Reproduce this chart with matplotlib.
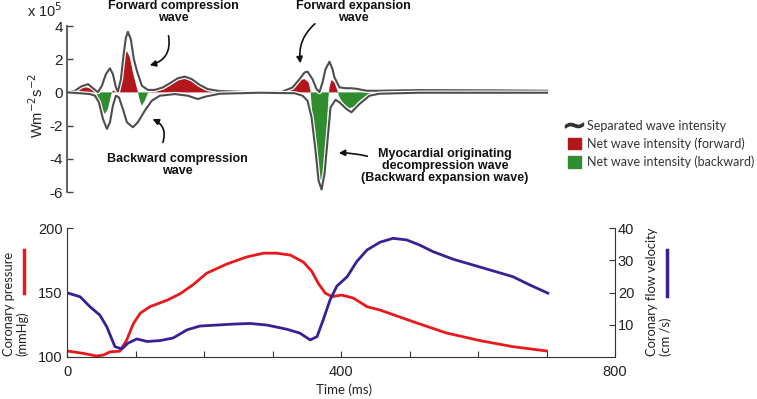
import matplotlib
matplotlib.use("Agg")
import matplotlib.pyplot as plt
import matplotlib.patheffects as pe
from matplotlib.lines import Line2D
from matplotlib.patches import Patch, FancyArrowPatch

# --- wave intensity (x 10^5 W m^-2 s^-2), time in ms ---
fwd_t = [0, 11.7, 20.4, 30.6, 37.9, 45.2, 51.0, 56.8, 62.7, 67.0, 71.4, 74.3, 78.7,
         83.0, 86.0, 88.9, 93.2, 97.6, 102.0, 109.3, 118.0, 128.2, 139.9, 150.1,
         161.7, 171.9, 182.1, 193.8, 205.4, 222.9, 266.6, 313.2, 329.3, 339.5,
         346.8, 351.1, 358.4, 364.3, 368.6, 373.0, 377.4, 383.2, 387.6, 390.5,
         397.8, 408.0, 415.2, 422.5, 437.1, 456.0, 514.3, 572.6, 630.9, 700.8]
fwd_v = [0, 0.1, 0.35, 0.5, 0.25, 0.02, 0.4, 1.1, 1.45, 1.1, 0.3, 0.05, 0.8,
         2.4, 3.3, 3.65, 3.2, 2.0, 1.3, 0.4, 0.15, 0.15, 0.3, 0.55,
         0.85, 0.95, 0.8, 0.45, 0.2, 0.08, 0.02, 0.03, 0.3, 0.8,
         1.2, 1.25, 0.8, 0.2, 0.02, 0.6, 1.4, 1.85, 1.4, 0.9,
         0.3, 0.25, 0.25, 0.22, 0.1, 0.1, 0.14, 0.13, 0.12, 0.1]

bwd_t = [0, 18.9, 33.5, 40.8, 46.6, 52.5, 58.3, 62.7, 67.0, 71.4, 75.8, 81.6, 87.4,
         96.2, 103.4, 113.6, 123.8, 135.5, 157.4, 176.3, 190.9, 202.5, 222.9,
         281.2, 332.2, 343.9, 351.1, 357.0, 362.8, 367.2, 371.6, 376.0, 380.3,
         384.7, 392.0, 397.8, 408.0, 415.2, 426.9, 441.5, 456.0, 514.3, 700.8]
bwd_v = [0, -0.05, -0.1, -0.2, -0.6, -1.6, -2.2, -1.8, -0.8, -0.2, -0.3, -1.0, -1.8,
         -2.1, -1.8, -1.1, -0.5, -0.2, -0.1, -0.2, -0.4, -0.25, -0.08,
         -0.02, -0.05, -0.2, -0.5, -1.5, -3.5, -5.3, -5.85, -4.9, -2.9,
         -0.9, -0.45, -0.6, -1.0, -1.2, -0.7, -0.2, -0.08, -0.02, -0.02]

net_t = [0, 8.7, 17.5, 26.2, 33.5, 40.8, 43.7, 49.5, 55.4, 59.7, 64.1, 67.0, 69.9,
         74.3, 78.7, 83.0, 87.4, 91.8, 96.2, 100.5, 103.4, 106.4, 109.3, 113.6,
         118.0, 123.8, 135.5, 145.7, 157.4, 169.0, 173.4, 182.1, 190.9, 201.1,
         215.6, 252.1, 310.3, 322.0, 332.2, 340.9, 346.8, 352.6, 355.5, 358.4,
         362.8, 367.2, 370.1, 374.5, 378.8, 381.7, 383.2, 386.1, 390.5, 394.8,
         397.8, 405.0, 412.3, 419.6, 426.9, 437.1, 448.8, 463.3, 477.9, 499.8,
         514.3, 528.9, 550.7, 572.6, 594.5, 616.3, 638.2, 660.0, 681.9, 696.4, 700.8]
net_v = [0, 0.08, 0.25, 0.32, 0.25, 0.05, -0.2, -0.9, -1.3, -1.0, -0.2, 0.12, 0.05,
         0.15, 0.7, 1.9, 2.5, 2.1, 1.2, 0.5, 0.05, -0.5, -0.8, -0.5,
         -0.05, 0.1, 0.12, 0.3, 0.65, 0.85, 0.88, 0.7, 0.4, 0.15,
         0.05, 0.0, 0.02, 0.15, 0.45, 0.75, 0.8, 0.6, 0.1, -1.5,
         -3.8, -5.3, -5.8, -4.8, -2.5, -0.3, 0.3, 0.75, 0.6, 0.1,
         -0.3, -0.75, -0.95, -0.85, -0.5, -0.2, -0.1, -0.05, 0.05, 0.1,
         0.14, 0.1, 0.08, 0.12, 0.08, 0.1, 0.09, 0.07, 0.1, 0.08, 0.0]

# --- coronary pressure (mmHg) and flow velocity (cm/s) ---
pres_t = [0, 24, 43, 53, 63, 77, 87, 97, 107, 121, 146, 165, 184, 204, 233, 262,
          287, 306, 326, 345, 357, 367, 377, 387, 401, 418, 438, 457, 505, 554,
          603, 651, 700]
pres_v = [104.7, 102.8, 100.8, 101.5, 104, 104.5, 113, 126, 134, 139, 144, 149,
          156, 165, 172, 177.5, 180.5, 180.5, 179, 173.6, 166.7, 157, 149.5,
          146.8, 148, 145.7, 139, 136.4, 127.4, 118.6, 112.7, 108, 104.7]

vel_t = [0, 19, 34, 48, 58, 70, 80, 89, 102, 117, 136, 155, 175, 194, 243, 267,
         292, 321, 340, 355, 365, 374, 384, 394, 409, 423, 438, 457, 476, 496,
         515, 534, 564, 598, 622, 651, 676, 702]
vel_v = [19.9, 18.7, 15.5, 13, 9.4, 3.2, 2.5, 4.3, 5.6, 4.8, 5.1, 5.9, 8.4, 9.6,
         10.2, 10.4, 9.9, 8.6, 7.4, 5.3, 6.3, 11.5, 17.7, 22, 24.9, 29.6, 33.2,
         35.6, 36.8, 36.3, 34.7, 32.7, 30.3, 28.2, 26.7, 24.9, 22.3, 19.8]

time_ticks = [0, 100, 200, 300, 400, 500, 600, 700, 800]
time_labels = ["0", "", "", "", "400", "", "", "", "800"]

RED = "#b3171b"
GREEN = "#2f8c2f"
LINE = "#4d4d4d"
P_RED = "#e8191c"
V_PURPLE = "#3b1f95"
TXT = "#222222"

plt.rcParams["font.family"] = ["Liberation Sans", "DejaVu Sans"]
plt.rcParams["axes.unicode_minus"] = False

W, H = 757, 399
fig = plt.figure(figsize=(W / 100, H / 100), dpi=100)


def fx(px):
    return px / W


def fy(py):
    return 1 - py / H


# ---------------- top panel ----------------
ax = fig.add_axes([fx(67), fy(192), 548 / W, 166 / H])
ax.fill_between(net_t, net_v, 0, where=[v >= 0 for v in net_v],
                interpolate=True, color=RED, lw=0)
ax.fill_between(net_t, net_v, 0, where=[v <= 0 for v in net_v],
                interpolate=True, color=GREEN, lw=0)
halo = [pe.Stroke(linewidth=3.2, foreground="white"), pe.Normal()]
ax.plot(fwd_t, fwd_v, color=LINE, lw=1.5, path_effects=halo, solid_joinstyle="round")
ax.plot(bwd_t, bwd_v, color=LINE, lw=1.5, path_effects=halo, solid_joinstyle="round")
ax.set_xlim(0, 800)
ax.set_ylim(-6, 4)
ax.set_yticks([-6, -4, -2, 0, 2, 4])
ax.set_xticks([])
for s in ["top", "right", "bottom"]:
    ax.spines[s].set_visible(False)
ax.spines["left"].set_color("#444444")
ax.spines["left"].set_linewidth(1.2)
ax.tick_params(axis="y", direction="in", length=4, width=1, colors="#444444",
               labelcolor=TXT, labelsize=11, pad=3)

fig.text(fx(27), fy(17), r"x 10$^{5}$", fontsize=10.5, color=TXT, va="baseline")
fig.text(fx(37), fy(105), r"Wm$^{-2}$s$^{-2}$", rotation=90, fontsize=10.5,
         color=TXT, ha="center", va="center")

ann = dict(fontsize=9, fontweight="bold", color="#111111", ha="center",
           va="center", linespacing=1.05)
fig.text(fx(173), fy(12), "Forward compression\nwave", **ann)
fig.text(fx(177), fy(165), "Backward compression\nwave", **ann)
fig.text(fx(353), fy(12), "Forward expansion\nwave", **ann)
fig.text(fx(445), fy(166),
         "Myocardial originating\ndecompression wave\n(Backward expansion wave)", **ann)


def arrow(tail, head, rad):
    fig.add_artist(FancyArrowPatch(
        (fx(tail[0]), fy(tail[1])), (fx(head[0]), fy(head[1])),
        transform=fig.transFigure, arrowstyle="-|>", mutation_scale=9,
        connectionstyle=f"arc3,rad={rad}", color="#111111", lw=1.2))


arrow((168, 33), (147, 66), -0.5)
arrow((162, 145), (150, 118), 0.5)
arrow((317, 22), (301, 66), 0.3)
arrow((370, 157), (336, 153), 0.08)

handles = [Line2D([], [], color="#333333", ls="none", marker=r"$\sim$", markersize=13),
           Patch(color=RED), Patch(color=GREEN)]
labels = ["Separated wave intensity", "Net wave intensity (forward)",
          "Net wave intensity (backward)"]
fig.legend(handles, labels, loc="upper left", bbox_to_anchor=(fx(563), fy(115)),
           frameon=False, handlelength=1.0, handleheight=1.0, handletextpad=0.55,
           labelspacing=0.45, borderaxespad=0,
           prop={"family": "Lato", "size": 9}, labelcolor="#333333")

# ---------------- bottom panel ----------------
bx = fig.add_axes([fx(67), fy(357), 548 / W, 129 / H])
bx.plot(pres_t, pres_v, color=P_RED, lw=2)
bx.set_xlim(0, 800)
bx.set_ylim(100, 200)
bx.set_yticks([100, 150, 200])
bx.set_xticks(time_ticks)
bx.set_xticklabels(time_labels)
bx.spines["top"].set_visible(False)
bx.spines["right"].set_visible(False)
for s in ["left", "bottom"]:
    bx.spines[s].set_color("#333333")
bx.tick_params(direction="in", length=4, colors="#333333", labelcolor=TXT,
               labelsize=10.5, pad=3)
bx.tick_params(axis="x", pad=6)

rx = bx.twinx()
rx.plot(vel_t, vel_v, color=V_PURPLE, lw=2)
rx.set_ylim(0, 40)
rx.set_yticks([10, 20, 30, 40])
for s in ["top", "left", "bottom"]:
    rx.spines[s].set_visible(False)
rx.spines["right"].set_color("#333333")
rx.tick_params(direction="in", length=4, colors="#333333", labelcolor=TXT,
               labelsize=10.5, pad=2)

lab = dict(rotation=90, fontsize=9.3, color=TXT, family="Lato",
           ha="center", va="bottom", multialignment="left", linespacing=1.1)
fig.text(fx(16), fy(356), "Coronary pressure\n(mmHg)", **lab)
fig.text(fx(659), fy(356), "Coronary flow velocity\n(cm /s)", **lab)
fig.add_artist(Line2D([fx(24), fx(24)], [fy(250), fy(293)], color=P_RED, lw=2.5,
                      transform=fig.transFigure))
fig.add_artist(Line2D([fx(667), fx(667)], [fy(250), fy(296)], color=V_PURPLE, lw=2.5,
                      transform=fig.transFigure))
fig.text(fx(344), fy(390), "Time (ms)", fontsize=9.5, family="Lato", color=TXT,
         ha="center", va="center")

fig.savefig("out.png", dpi=100)
